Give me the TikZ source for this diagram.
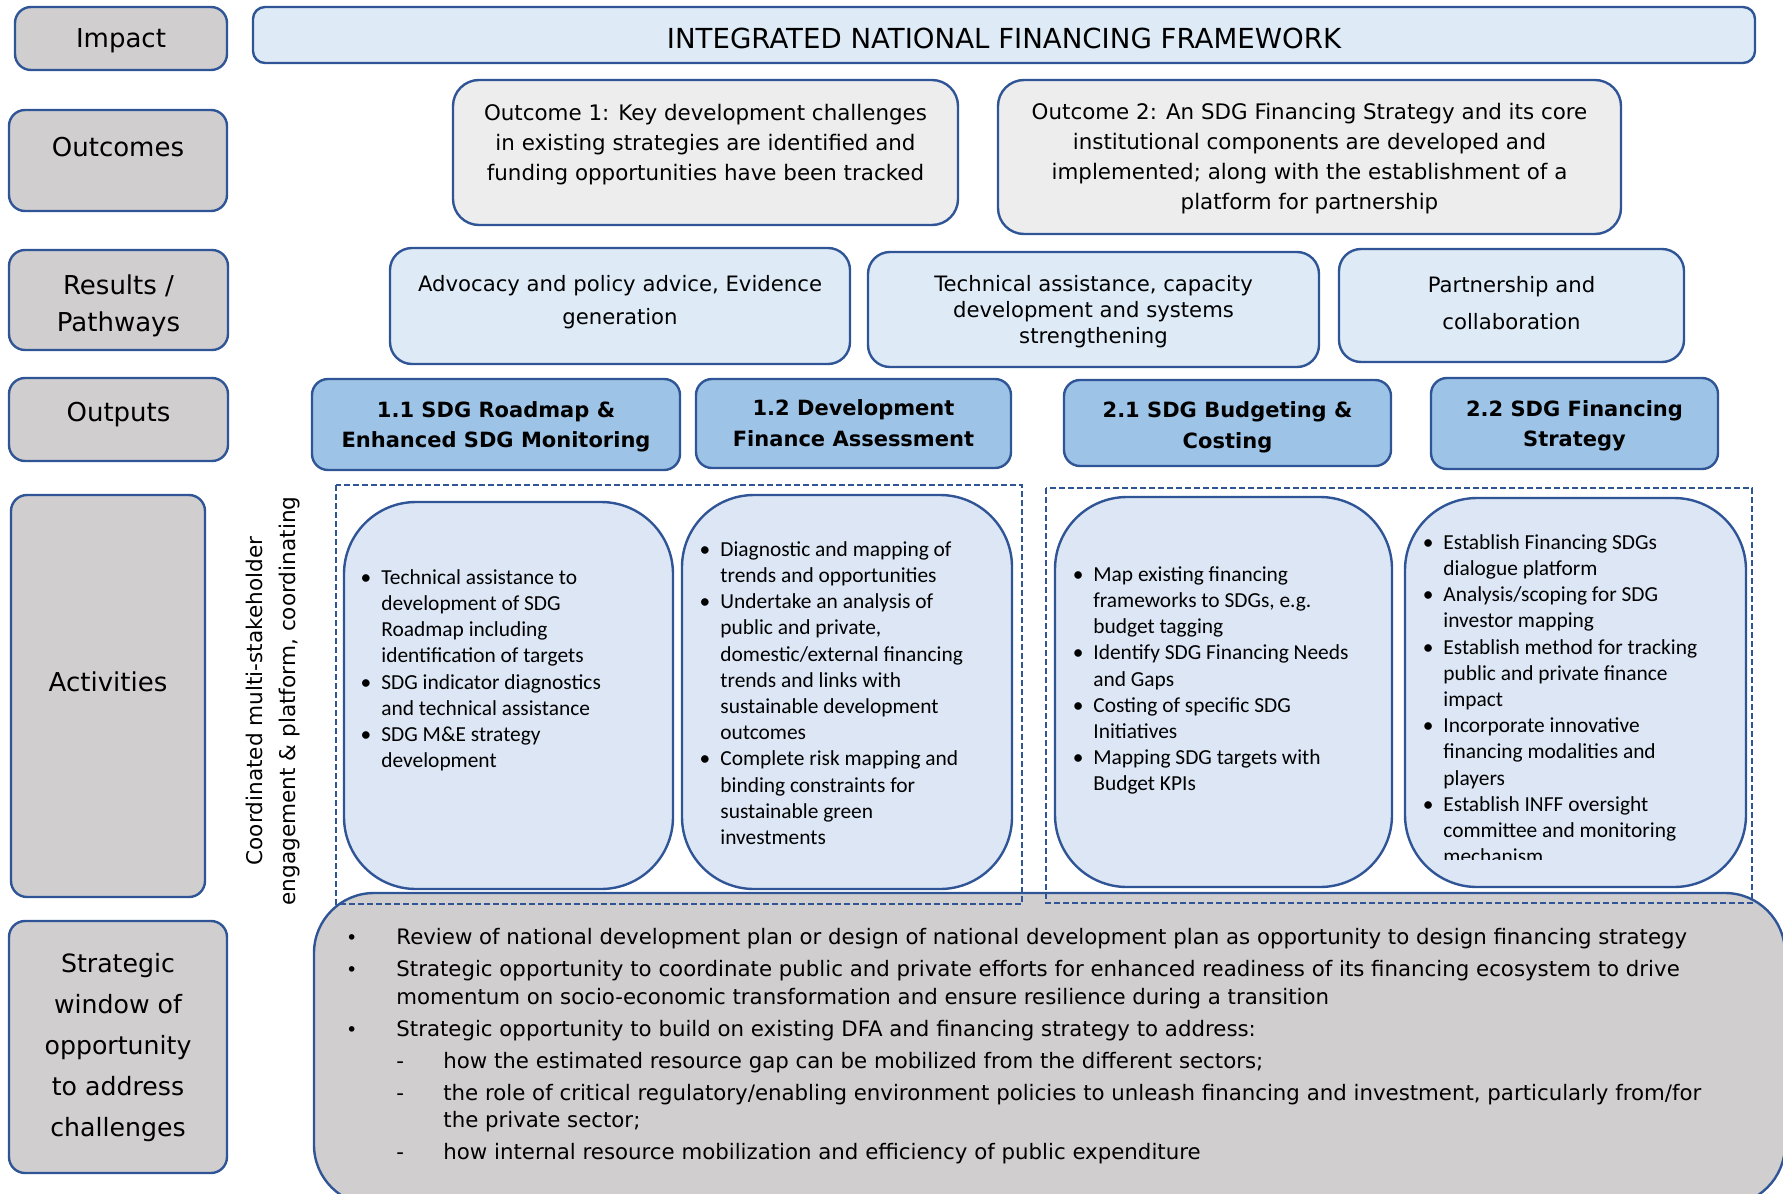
\documentclass[tikz,border=0pt]{standalone}
\usepackage{fontspec}
\usepackage{graphicx}
\setmainfont{DejaVu Sans}
\newfontfamily\calibri{Carlito}
\usetikzlibrary{fit}

\definecolor{frameblue}{HTML}{2F5597}
\definecolor{labgrey}{HTML}{D0CECE}
\definecolor{paleblue}{HTML}{DEEBF7}
\definecolor{actblue}{HTML}{DCE6F4}
\definecolor{outcgrey}{HTML}{EDEDED}
\definecolor{outpblue}{HTML}{9DC3E6}

\newcommand\bul{\llap{\textbullet\hspace{5pt}}}
\newcommand\wbul{\llap{\scalebox{0.9}{\textbullet}\hspace{19.5pt}}}
\newcommand\wdash{\hspace*{23.5pt}\llap{-\hspace{19.7pt}}}

\tikzset{
  box/.style={draw=frameblue, line width=1.2pt, inner sep=0pt},
  labbox/.style={box, fill=labgrey, rounded corners=8pt},
  labtext/.style={inner sep=0pt, align=center, font=\fontsize{13}{18.5}\selectfont},
  banner/.style={box, fill=paleblue, rounded corners=6pt},
  outcbox/.style={box, fill=outcgrey, rounded corners=13pt},
  outctext/.style={inner sep=0pt, align=center, font=\fontsize{10.7}{15}\selectfont},
  pathbox/.style={box, fill=paleblue, rounded corners=11pt},
  pathtext/.style={inner sep=0pt, align=center, font=\fontsize{10.6}{16.5}\selectfont},
  outpbox/.style={box, fill=outpblue, rounded corners=8pt},
  outptext/.style={inner sep=0pt, align=center, font=\bfseries\fontsize{10.5}{15.4}\selectfont},
  actbox/.style={box, fill=actblue, rounded corners=36pt},
  acttext/.style={inner sep=0pt, anchor=north west, align=left, font=\calibri\fontsize{10.7}{13.1}\selectfont},
  dashframe/.style={draw=frameblue, line width=0.8pt, dash pattern=on 3pt off 1.5pt},
  winbox/.style={box, fill=labgrey, rounded corners=30pt}
}

\begin{document}
\begin{tikzpicture}[x=0.5pt,y=-0.5pt]
%%%%% START %%%%%
\useasboundingbox (0,0) rectangle (1783,1194);

% row labels
\node[labbox, fit={(15,7)(227,70)}] (impact) {};
\node[labtext] (impacttxt) at ([yshift=-1.1pt]impact.center) {Impact};
\node[labbox, fit={(9,110)(227,211)}] (outcomes) {};
\node[labtext] (outcomestxt) at ([yshift=6.6pt]outcomes.center) {Outcomes};
\node[labbox, fit={(9,250)(228,350)}] (results) {};
\node[labtext] (resultstxt) at ([yshift=-2.7pt]results.center) {Results /\\Pathways};
\node[labbox, fit={(9,378)(228,461)}] (outputs) {};
\node[labtext] (outputstxt) at ([yshift=2.6pt]outputs.center) {Outputs};
\node[labbox, fit={(11,495)(205,897)}] (activities) {};
\node[labtext] (activitiestxt) at ([yshift=7pt]activities.center) {Activities};
\node[labbox, fit={(9,921)(227,1173)}] (window) {};
\node[labtext, font=\fontsize{12.6}{20.6}\selectfont] (windowtxt) at ([yshift=-0.3pt]window.center)
  {Strategic\\window of\\opportunity\\to address\\challenges};

% impact
\node[banner, fit={(253,7)(1755,63)}] (inff) {};
\node[inner sep=0pt, font=\fontsize{13.8}{16}\selectfont] (infftxt) at ([yshift=-1.8pt]inff.center)
  {INTEGRATED NATIONAL FINANCING FRAMEWORK};

% outcomes
\node[outcbox, fit={(453,80)(958,225)}] (outc1) {};
\node[outctext] (outc1txt) at ([yshift=4.2pt]outc1.center)
  {Outcome 1: Key development challenges\\in existing strategies are identified and\\funding opportunities have been tracked};
\node[outcbox, fit={(998,80)(1621,234)}] (outc2) {};
\node[outctext] (outc2txt) at ([yshift=-1pt]outc2.center)
  {Outcome 2: An SDG Financing Strategy and its core\\institutional components are developed and\\implemented; along with the establishment of a\\platform for partnership};

% results / pathways
\node[pathbox, fit={(390,248)(850,364)}] (advocacy) {};
\node[pathtext] (advocacytxt) at ([yshift=1.9pt]advocacy.center)
  {Advocacy and policy advice, Evidence\\generation};
\node[pathbox, fit={(868,252)(1319,367)}] (techassist) {};
\node[pathtext, font=\fontsize{10.6}{13}\selectfont] (techassisttxt) at ([yshift=-1.1pt]techassist.center)
  {Technical assistance, capacity\\development and systems\\strengthening};
\node[pathbox, fit={(1339,249)(1684,362)}] (partnership) {};
\node[pathtext, font=\fontsize{10.6}{18.5}\selectfont] (partnershiptxt) at ([yshift=1pt]partnership.center)
  {Partnership and\\collaboration};

% outputs
\node[outpbox, fit={(312,379)(680,470)}] (out11) {};
\node[outptext] (out11txt) at ([yshift=-1.1pt]out11.center) {1.1 SDG Roadmap \&\\Enhanced SDG Monitoring};
\node[outpbox, fit={(696,379)(1011,468)}] (out12) {};
\node[outptext] (out12txt) at (out12.center) {1.2 Development\\Finance Assessment};
\node[outpbox, fit={(1064,380)(1391,466)}] (out21) {};
\node[outptext] (out21txt) at ([yshift=-2.3pt]out21.center) {2.1 SDG Budgeting \&\\Costing};
\node[outpbox, fit={(1431,378)(1718,469)}] (out22) {};
\node[outptext] (out22txt) at ([yshift=-1.1pt]out22.center) {2.2 SDG Financing\\Strategy};

% strategic window
\node[winbox, fit={(314,893)(1785,1205)}] (windowbox) {};
\node[inner sep=0pt, anchor=north west, align=left, font=\fontsize{10.65}{13.75}\selectfont] (windowlist) at (396,928)
  {\wbul Review of national development plan or design of national development plan as opportunity to design financing strategy\\[2.25pt]
   \wbul Strategic opportunity to coordinate public and private efforts for enhanced readiness of its financing ecosystem to drive\\
   momentum on socio-economic transformation and ensure resilience during a transition\\[2.25pt]
   \wbul Strategic opportunity to build on existing DFA and financing strategy to address:\\[2.25pt]
   \wdash how the estimated resource gap can be mobilized from the different sectors;\\[2.25pt]
   \wdash the role of critical regulatory/enabling environment policies to unleash financing and investment, particularly from/for\\
   \hspace*{23.5pt}the private sector;\\[2.25pt]
   \wdash how internal resource mobilization and efficiency of public expenditure};

% activities
\node[inner sep=0pt, align=center, rotate=90, font=\fontsize{10.8}{16.5}\selectfont] (coordination) at (273,701)
  {Coordinated multi-stakeholder\\engagement \& platform, coordinating};

\node[actbox, fit={(344,502)(673,889)}] (act11) {};
\node[acttext] (act11txt) at (381,569)
  {\bul Technical assistance to\\ development of SDG\\ Roadmap including\\ identification of targets\\
   \bul SDG indicator diagnostics\\ and technical assistance\\
   \bul SDG M\&E strategy\\ development};

\node[actbox, fit={(682,495)(1012,889)}] (act12) {};
\node[acttext] (act12txt) at (720,541)
  {\bul Diagnostic and mapping of\\ trends and opportunities\\
   \bul Undertake an analysis of\\ public and private,\\ domestic/external financing\\ trends and links with\\ sustainable development\\ outcomes\\
   \bul Complete risk mapping and\\ binding constraints for\\ sustainable green\\ investments};

\node[actbox, fit={(1055,497)(1392,887)}] (act21) {};
\node[acttext] (act21txt) at (1093,566)
  {\bul Map existing financing\\ frameworks to SDGs, e.g.\\ budget tagging\\
   \bul Identify SDG Financing Needs\\ and Gaps\\
   \bul Costing of specific SDG\\ Initiatives\\
   \bul Mapping SDG targets with\\ Budget KPIs};

\node[actbox, fit={(1405,498)(1746,887)}] (act22) {};
\begin{scope}
\clip (1405,498) rectangle (1746,859);
\node[acttext] (act22txt) at (1443,534)
  {\bul Establish Financing SDGs\\ dialogue platform\\
   \bul Analysis/scoping for SDG\\ investor mapping\\
   \bul Establish method for tracking\\ public and private finance\\ impact\\
   \bul Incorporate innovative\\ financing modalities and\\ players\\
   \bul Establish INFF oversight\\ committee and monitoring\\ mechanism};
\end{scope}

\draw[dashframe] (336,485) rectangle (1022,904);
\draw[dashframe] (1046,488) rectangle (1752,903);

%%%%% END %%%%%
\end{tikzpicture}
\end{document}
